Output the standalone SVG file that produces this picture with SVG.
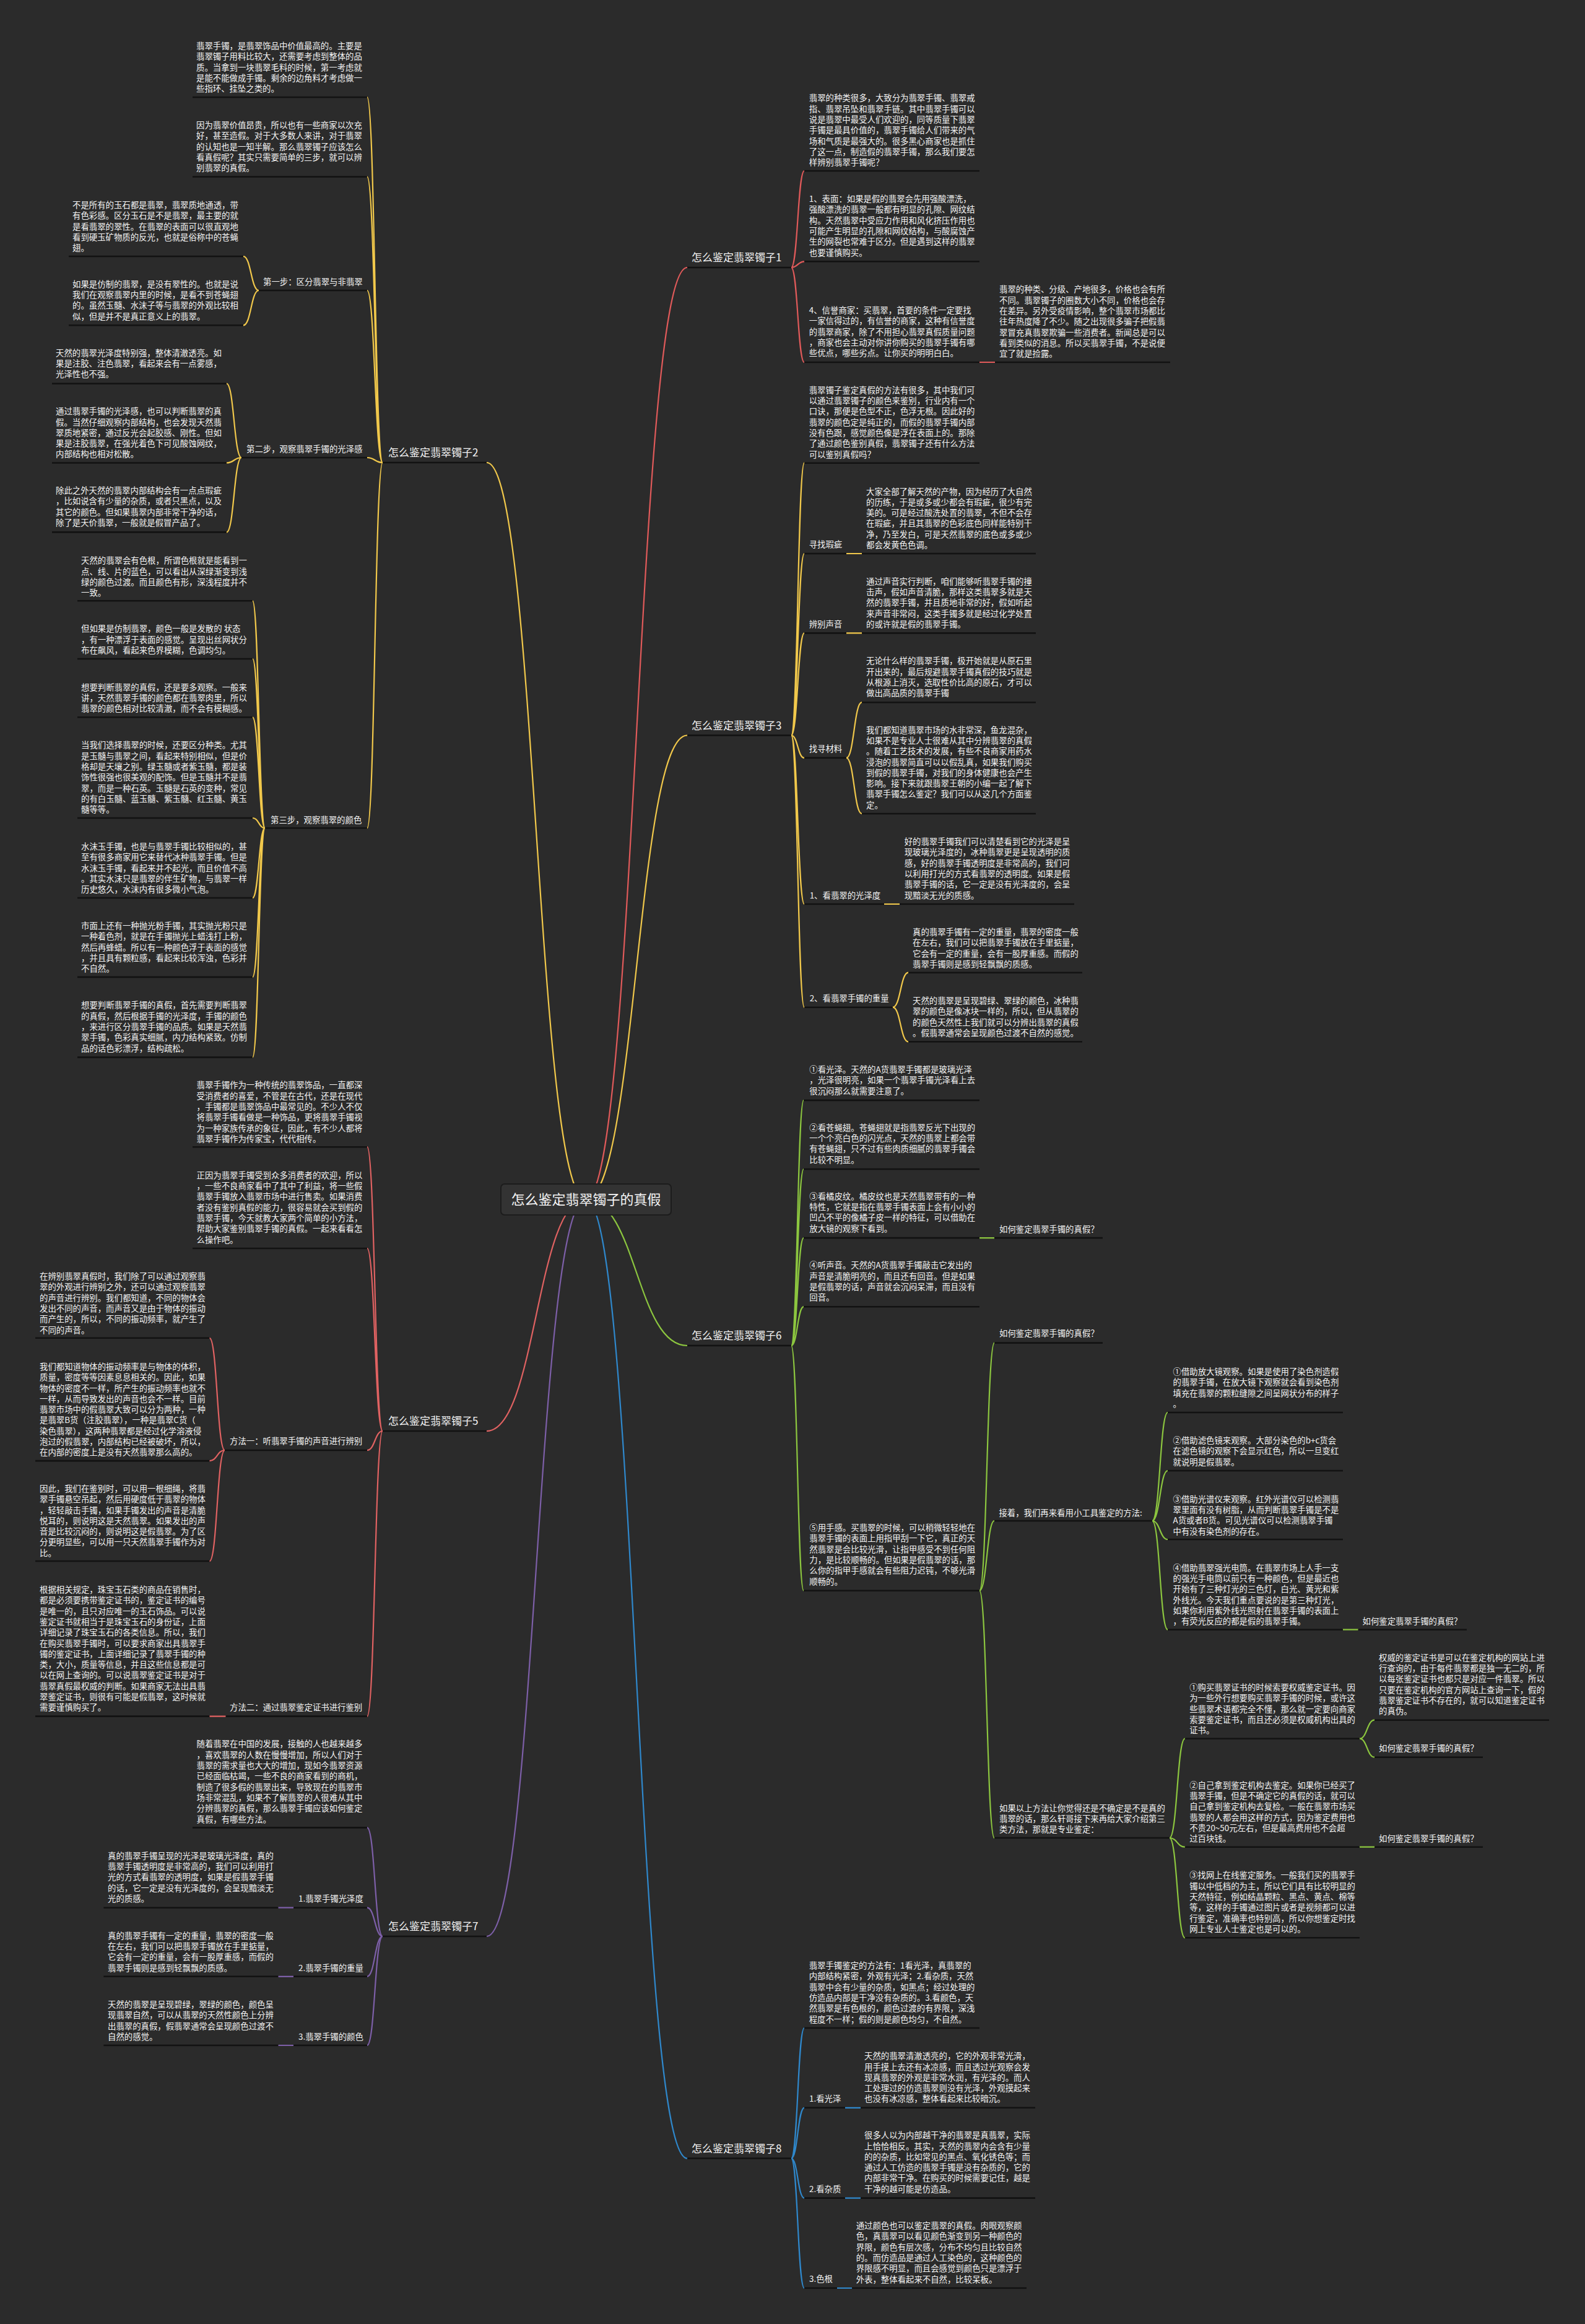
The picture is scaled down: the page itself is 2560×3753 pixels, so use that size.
<svg xmlns="http://www.w3.org/2000/svg" width="2560" height="3753" viewBox="0 0 2560 3753">
<style>
.t{font-family:"Noto Sans CJK SC","Noto Sans",sans-serif;font-size:13.4px;fill:#f4f4f4}
.lb{font-family:"Noto Sans CJK SC","Noto Sans",sans-serif;font-size:17px;fill:#f4f4f4}
.u{stroke:#121212;stroke-width:2.6;fill:none}
.c{fill:none;stroke-width:2.2;stroke-linecap:round}
.r1{stroke:#e05a5a}.y2{stroke:#f1c84b}.y3{stroke:#f1c84b}.r5{stroke:#e06262}.g6{stroke:#8cc63f}.p7{stroke:#7d5fa8}.b8{stroke:#2f88cc}
</style>
<rect width="2560" height="3753" fill="#2b2b2b"/>
<g id="connectors">
<path class="c r1" d="M946 1937C1028 1937 1028 432 1110 432"/>
<path class="c y3" d="M946 1937C1028 1937 1028 1187.5 1110 1187.5"/>
<path class="c g6" d="M946 1937C1028 1937 1028 2173 1110 2173"/>
<path class="c b8" d="M946 1937C1028 1937 1028 3485.5 1110 3485.5"/>
<path class="c y2" d="M946 1937C866 1937 866 747 786 747"/>
<path class="c r5" d="M946 1937C866 1937 866 2311 786 2311"/>
<path class="c p7" d="M946 1937C866 1937 866 3127 786 3127"/>
<!-- branch 2 -->
<path class="c y2" d="M618 747C605.5 747 605.5 157 593 157M618 747C605.5 747 605.5 285.5 593 285.5M618 747C605.5 747 605.5 469 593 469M618 747C605.5 747 605.5 739 593 739M618 747C605.5 747 605.5 1337.2 593 1337.2"/>
<path class="c y2" d="M418 469C405.5 469 405.5 414 393 414M418 469C405.5 469 405.5 525.3 393 525.3"/>
<path class="c y2" d="M390 739C378 739 378 619.5 366 619.5M390 739C378 739 378 747.5 366 747.5M390 739C378 739 378 859.4 366 859.4"/>
<path class="c y2" d="M428 1337.2C418 1337.2 418 970.3 408 970.3M428 1337.2C418 1337.2 418 1064 408 1064M428 1337.2C418 1337.2 418 1158.3 408 1158.3M428 1337.2C418 1337.2 418 1321 408 1321M428 1337.2C418 1337.2 418 1450 408 1450M428 1337.2C418 1337.2 418 1577.9 408 1577.9M428 1337.2C418 1337.2 418 1707.4 408 1707.4"/>
<!-- branch 5 -->
<path class="c r5" d="M618 2311C605.5 2311 605.5 1852.2 593 1852.2M618 2311C605.5 2311 605.5 2016 593 2016M618 2311C605.5 2311 605.5 2342 593 2342M618 2311C605.5 2311 605.5 2771.6 593 2771.6"/>
<path class="c r5" d="M363 2342C350.7 2342 350.7 2160.8 338.5 2160.8M363 2342C350.7 2342 350.7 2359.1 338.5 2359.1M363 2342C350.7 2342 350.7 2521 338.5 2521"/>
<path class="c r5" d="M364.5 2771.6H338.5"/>
<!-- branch 7 -->
<path class="c p7" d="M618 3127C605.5 3127 605.5 2951.4 593 2951.4M618 3127C605.5 3127 605.5 3080.7 593 3080.7M618 3127C605.5 3127 605.5 3191.8 593 3191.8M618 3127C605.5 3127 605.5 3303 593 3303"/>
<path class="c p7" d="M474 3080.7H449.5M474 3191.8H449.5M474 3303H449.5"/>
<!-- branch 1 -->
<path class="c r1" d="M1278 432C1288.5 432 1288.5 276 1299 276M1278 432C1288.5 432 1288.5 422.3 1299 422.3M1278 432C1288.5 432 1288.5 585 1299 585"/>
<path class="c r1" d="M1582 585H1607"/>
<!-- branch 3 -->
<path class="c y3" d="M1278 1187.5C1288.5 1187.5 1288.5 747.7 1299 747.7M1278 1187.5C1288.5 1187.5 1288.5 894 1299 894M1278 1187.5C1288.5 1187.5 1288.5 1022.4 1299 1022.4M1278 1187.5C1288.5 1187.5 1288.5 1223.9 1299 1223.9M1278 1187.5C1288.5 1187.5 1288.5 1460 1299 1460M1278 1187.5C1288.5 1187.5 1288.5 1626.7 1299 1626.7"/>
<path class="c y3" d="M1367 894H1392M1367 1022.4H1392M1428 1460H1453"/>
<path class="c y3" d="M1367 1223.9C1379.5 1223.9 1379.5 1134.2 1392 1134.2M1367 1223.9C1379.5 1223.9 1379.5 1314 1392 1314"/>
<path class="c y3" d="M1442 1626.7C1454.5 1626.7 1454.5 1570.7 1467 1570.7M1442 1626.7C1454.5 1626.7 1454.5 1682.3 1467 1682.3"/>
<!-- branch 6 -->
<path class="c g6" d="M1278 2173C1288 2173 1288 1776.9 1298 1776.9M1278 2173C1288 2173 1288 1888 1298 1888M1278 2173C1288 2173 1288 1999.1 1298 1999.1M1278 2173C1288 2173 1288 2110.2 1298 2110.2M1278 2173C1288 2173 1288 2568.7 1298 2568.7"/>
<path class="c g6" d="M1582 1999.1H1606"/>
<path class="c g6" d="M1582 2568.7C1594 2568.7 1594 2168.6 1606 2168.6M1582 2568.7C1594 2568.7 1594 2456 1606 2456M1582 2568.7C1594 2568.7 1594 2968 1606 2968"/>
<path class="c g6" d="M1861 2456C1873.5 2456 1873.5 2281 1886 2281M1861 2456C1873.5 2456 1873.5 2375 1886 2375M1861 2456C1873.5 2456 1873.5 2486 1886 2486M1861 2456C1873.5 2456 1873.5 2631.7 1886 2631.7"/>
<path class="c g6" d="M2169 2631.7H2193.5"/>
<path class="c g6" d="M1889 2968C1901.4 2968 1901.4 2807.7 1913.8 2807.7M1889 2968C1901.4 2968 1901.4 2982.7 1913.8 2982.7M1889 2968C1901.4 2968 1901.4 3129.3 1913.8 3129.3"/>
<path class="c g6" d="M2196 2807.7C2208 2807.7 2208 2777.7 2220 2777.7M2196 2807.7C2208 2807.7 2208 2837.7 2220 2837.7"/>
<path class="c g6" d="M2196 2982.7H2220"/>
<!-- branch 8 -->
<path class="c b8" d="M1278 3485.5C1288.5 3485.5 1288.5 3275 1299 3275M1278 3485.5C1288.5 3485.5 1288.5 3403.8 1299 3403.8M1278 3485.5C1288.5 3485.5 1288.5 3549.6 1299 3549.6M1278 3485.5C1288.5 3485.5 1288.5 3695 1299 3695"/>
<path class="c b8" d="M1365 3403.8H1390M1365 3549.6H1390M1352 3695H1376"/>
</g>

<g id="center">
<rect x="809" y="1912" width="275" height="50" rx="6" fill="#333" stroke="#1c1c1c" stroke-width="2"/>
<text x="946.5" y="1945" text-anchor="middle" font-family="Noto Sans CJK SC, sans-serif" font-size="22" fill="#f4f4f4">怎么鉴定翡翠镯子的真假</text>
</g>

<!-- ===== Branch 2 ===== -->
<g id="b2"><line class="u" x1="618" y1="747" x2="786" y2="747"/><text class="lb" x="627" y="737">怎么鉴定翡翠镯子2</text></g>
<g id="n2a"><line class="u" x1="311" y1="157" x2="593" y2="157"/><text class="t" x="317" y="79"><tspan x="317" dy="0">翡翠手镯，是翡翠饰品中价值最高的。主要是</tspan><tspan x="317" dy="17.3">翡翠镯子用料比较大，还需要考虑到整体的品</tspan><tspan x="317" dy="17.3">质。当拿到一块翡翠毛料的时候，第一考虑就</tspan><tspan x="317" dy="17.3">是能不能做成手镯。剩余的边角料才考虑做一</tspan><tspan x="317" dy="17.3">些指环、挂坠之类的。</tspan></text></g>
<g id="n2b"><line class="u" x1="311" y1="285.5" x2="593" y2="285.5"/><text class="t" x="317" y="207"><tspan x="317" dy="0">因为翡翠价值昂贵，所以也有一些商家以次充</tspan><tspan x="317" dy="17.3">好，甚至造假。对于大多数人来讲，对于翡翠</tspan><tspan x="317" dy="17.3">的认知也是一知半解。那么翡翠镯子应该怎么</tspan><tspan x="317" dy="17.3">看真假呢？其实只需要简单的三步，就可以辨</tspan><tspan x="317" dy="17.3">别翡翠的真假。</tspan></text></g>
<g id="n2s1"><line class="u" x1="418" y1="469" x2="593" y2="469"/><text class="t" x="425" y="460">第一步：区分翡翠与非翡翠</text></g>
<g id="n2s1a"><line class="u" x1="111" y1="414" x2="393" y2="414"/><text class="t" x="117" y="336"><tspan x="117" dy="0">不是所有的玉石都是翡翠，翡翠质地通透，带</tspan><tspan x="117" dy="17.3">有色彩感。区分玉石是不是翡翠，最主要的就</tspan><tspan x="117" dy="17.3">是看翡翠的翠性。在翡翠的表面可以很直观地</tspan><tspan x="117" dy="17.3">看到硬玉矿物质的反光，也就是俗称中的苍蝇</tspan><tspan x="117" dy="17.3">翅。</tspan></text></g>
<g id="n2s1b"><line class="u" x1="111" y1="525.3" x2="393" y2="525.3"/><text class="t" x="117" y="463.7"><tspan x="117" dy="0">如果是仿制的翡翠，是没有翠性的。也就是说</tspan><tspan x="117" dy="17.3">我们在观察翡翠内里的时候，是看不到苍蝇翅</tspan><tspan x="117" dy="17.3">的。虽然玉髓、水沫子等与翡翠的外观比较相</tspan><tspan x="117" dy="17.3">似，但是并不是真正意义上的翡翠。</tspan></text></g>
<g id="n2s2"><line class="u" x1="390" y1="739" x2="593" y2="739"/><text class="t" x="398" y="729.5">第二步，观察翡翠手镯的光泽感</text></g>
<g id="n2s2a"><line class="u" x1="84" y1="619.5" x2="366" y2="619.5"/><text class="t" x="90" y="574.5"><tspan x="90" dy="0">天然的翡翠光泽度特别强，整体清澈透亮。如</tspan><tspan x="90" dy="17.3">果是注胶、注色翡翠，看起来会有一点雾感，</tspan><tspan x="90" dy="17.3">光泽性也不强。</tspan></text></g>
<g id="n2s2b"><line class="u" x1="84" y1="747.5" x2="366" y2="747.5"/><text class="t" x="90" y="669.2"><tspan x="90" dy="0">通过翡翠手镯的光泽感，也可以判断翡翠的真</tspan><tspan x="90" dy="17.3">假。当然仔细观察内部结构，也会发现天然翡</tspan><tspan x="90" dy="17.3">翠质地紧密，通过反光会起胶感、刚性。但如</tspan><tspan x="90" dy="17.3">果是注胶翡翠，在强光着色下可见酸蚀网纹，</tspan><tspan x="90" dy="17.3">内部结构也相对松散。</tspan></text></g>
<g id="n2s2c"><line class="u" x1="84" y1="859.4" x2="366" y2="859.4"/><text class="t" x="90" y="797"><tspan x="90" dy="0">除此之外天然的翡翠内部结构会有一点点瑕疵</tspan><tspan x="90" dy="17.3">，比如说含有少量的杂质，或者只黑点，以及</tspan><tspan x="90" dy="17.3">其它的颜色。但如果翡翠内部非常干净的话，</tspan><tspan x="90" dy="17.3">除了是天价翡翠，一般就是假冒产品了。</tspan></text></g>
<g id="n2s3"><line class="u" x1="428" y1="1337.2" x2="593" y2="1337.2"/><text class="t" x="437" y="1329.2">第三步，观察翡翠的颜色</text></g>
<g id="n2s3a"><line class="u" x1="125" y1="970.3" x2="408" y2="970.3"/><text class="t" x="131" y="910.2"><tspan x="131" dy="0">天然的翡翠会有色根，所谓色根就是能看到一</tspan><tspan x="131" dy="17.3">点、线、片的蓝色，可以看出从深绿渐变到浅</tspan><tspan x="131" dy="17.3">绿的颜色过渡。而且颜色有形，深浅程度并不</tspan><tspan x="131" dy="17.3">一致。</tspan></text></g>
<g id="n2s3b"><line class="u" x1="125" y1="1064" x2="408" y2="1064"/><text class="t" x="131" y="1020.3"><tspan x="131" dy="0">但如果是仿制翡翠，颜色一般是发散的 状态</tspan><tspan x="131" dy="17.3">，有一种漂浮于表面的感觉。呈现出丝网状分</tspan><tspan x="131" dy="17.3">布在飙风，看起来色界模糊，色调均匀。</tspan></text></g>
<g id="n2s3c"><line class="u" x1="125" y1="1158.3" x2="408" y2="1158.3"/><text class="t" x="131" y="1114.6"><tspan x="131" dy="0">想要判断翡翠的真假，还是要多观察。一般来</tspan><tspan x="131" dy="17.3">讲，天然翡翠手镯的颜色都在翡翠肉里，所以</tspan><tspan x="131" dy="17.3">翡翠的颜色相对比较清澈，而不会有模糊感。</tspan></text></g>
<g id="n2s3d"><line class="u" x1="125" y1="1321" x2="408" y2="1321"/><text class="t" x="131" y="1208.3"><tspan x="131" dy="0">当我们选择翡翠的时候，还要区分种类。尤其</tspan><tspan x="131" dy="17.3">是玉髓与翡翠之间，看起来特别相似，但是价</tspan><tspan x="131" dy="17.3">格却是天壤之别。绿玉髓或者紫玉髓，都是装</tspan><tspan x="131" dy="17.3">饰性很强也很美观的配饰。但是玉髓并不是翡</tspan><tspan x="131" dy="17.3">翠，而是一种石英。玉髓是石英的变种，常见</tspan><tspan x="131" dy="17.3">的有白玉髓、蓝玉髓、紫玉髓、红玉髓、黄玉</tspan><tspan x="131" dy="17.3">髓等等。</tspan></text></g>
<g id="n2s3e"><line class="u" x1="125" y1="1450" x2="408" y2="1450"/><text class="t" x="131" y="1372"><tspan x="131" dy="0">水沫玉手镯，也是与翡翠手镯比较相似的，甚</tspan><tspan x="131" dy="17.3">至有很多商家用它来替代冰种翡翠手镯。但是</tspan><tspan x="131" dy="17.3">水沫玉手镯，看起来并不起光，而且价值不高</tspan><tspan x="131" dy="17.3">。其实水沫只是翡翠的伴生矿物，与翡翠一样</tspan><tspan x="131" dy="17.3">历史悠久，水沫内有很多微小气泡。</tspan></text></g>
<g id="n2s3f"><line class="u" x1="125" y1="1577.9" x2="408" y2="1577.9"/><text class="t" x="131" y="1499.9"><tspan x="131" dy="0">市面上还有一种抛光粉手镯，其实抛光粉只是</tspan><tspan x="131" dy="17.3">一种着色剂，就是在手镯抛光上蜡浅打上粉，</tspan><tspan x="131" dy="17.3">然后再蜂蜡。所以有一种颜色浮于表面的感觉</tspan><tspan x="131" dy="17.3">，并且具有颗粒感，看起来比较浑浊，色彩并</tspan><tspan x="131" dy="17.3">不自然。</tspan></text></g>
<g id="n2s3g"><line class="u" x1="125" y1="1707.4" x2="408" y2="1707.4"/><text class="t" x="131" y="1628.4"><tspan x="131" dy="0">想要判断翡翠手镯的真假，首先需要判断翡翠</tspan><tspan x="131" dy="17.3">的真假，然后根据手镯的光泽度，手镯的颜色</tspan><tspan x="131" dy="17.3">，来进行区分翡翠手镯的品质。如果是天然翡</tspan><tspan x="131" dy="17.3">翠手镯，色彩真实细腻，内力结构紧致。仿制</tspan><tspan x="131" dy="17.3">品的话色彩漂浮，结构疏松。</tspan></text></g>

<!-- ===== Branch 5 ===== -->
<g id="b5"><line class="u" x1="618" y1="2311" x2="786" y2="2311"/><text class="lb" x="627" y="2301">怎么鉴定翡翠镯子5</text></g>
<g id="n5a"><line class="u" x1="311" y1="1852.2" x2="593" y2="1852.2"/><text class="t" x="317.5" y="1757.4"><tspan x="317.5" dy="0">翡翠手镯作为一种传统的翡翠饰品，一直都深</tspan><tspan x="317.5" dy="17.3">受消费者的喜爱，不管是在古代，还是在现代</tspan><tspan x="317.5" dy="17.3">，手镯都是翡翠饰品中最常见的。不少人不仅</tspan><tspan x="317.5" dy="17.3">将翡翠手镯看做是一种饰品，更将翡翠手镯视</tspan><tspan x="317.5" dy="17.3">为一种家族传承的象征，因此，有不少人都将</tspan><tspan x="317.5" dy="17.3">翡翠手镯作为传家宝，代代相传。</tspan></text></g>
<g id="n5b"><line class="u" x1="311" y1="2016" x2="593" y2="2016"/><text class="t" x="317.5" y="1902.7"><tspan x="317.5" dy="0">正因为翡翠手镯受到众多消费者的欢迎，所以</tspan><tspan x="317.5" dy="17.3">，一些不良商家看中了其中了利益，将一些假</tspan><tspan x="317.5" dy="17.3">翡翠手镯放入翡翠市场中进行售卖。如果消费</tspan><tspan x="317.5" dy="17.3">者没有鉴别真假的能力，很容易就会买到假的</tspan><tspan x="317.5" dy="17.3">翡翠手镯，今天就教大家两个简单的小方法，</tspan><tspan x="317.5" dy="17.3">帮助大家鉴别翡翠手镯的真假。一起来看看怎</tspan><tspan x="317.5" dy="17.3">么操作吧。</tspan></text></g>
<g id="n5m1"><line class="u" x1="363" y1="2342" x2="593" y2="2342"/><text class="t" x="371" y="2332.4">方法一：听翡翠手镯的声音进行辨别</text></g>
<g id="n5m1a"><line class="u" x1="57" y1="2160.8" x2="338.5" y2="2160.8"/><text class="t" x="64" y="2066"><tspan x="64" dy="0">在辨别翡翠真假时，我们除了可以通过观察翡</tspan><tspan x="64" dy="17.3">翠的外观进行辨别之外，还可以通过观察翡翠</tspan><tspan x="64" dy="17.3">的声音进行辨别。我们都知道，不同的物体会</tspan><tspan x="64" dy="17.3">发出不同的声音，而声音又是由于物体的振动</tspan><tspan x="64" dy="17.3">而产生的，所以，不同的振动频率，就产生了</tspan><tspan x="64" dy="17.3">不同的声音。</tspan></text></g>
<g id="n5m1b"><line class="u" x1="57" y1="2359.1" x2="338.5" y2="2359.1"/><text class="t" x="64" y="2211.9"><tspan x="64" dy="0">我们都知道物体的振动频率是与物体的体积，</tspan><tspan x="64" dy="17.3">质量，密度等等因素息息相关的。因此，如果</tspan><tspan x="64" dy="17.3">物体的密度不一样，所产生的振动频率也就不</tspan><tspan x="64" dy="17.3">一样，从而导致发出的声音也会不一样。目前</tspan><tspan x="64" dy="17.3">翡翠市场中的假翡翠大致可以分为两种，一种</tspan><tspan x="64" dy="17.3">是翡翠B货（注胶翡翠），一种是翡翠C货（</tspan><tspan x="64" dy="17.3">染色翡翠），这两种翡翠都是经过化学溶液侵</tspan><tspan x="64" dy="17.3">泡过的假翡翠，内部结构已经被破坏，所以，</tspan><tspan x="64" dy="17.3">在内部的密度上是没有天然翡翠那么高的。</tspan></text></g>
<g id="n5m1c"><line class="u" x1="57" y1="2521" x2="338.5" y2="2521"/><text class="t" x="64" y="2408.9"><tspan x="64" dy="0">因此，我们在鉴别时，可以用一根细绳，将翡</tspan><tspan x="64" dy="17.3">翠手镯悬空吊起，然后用硬度低于翡翠的物体</tspan><tspan x="64" dy="17.3">，轻轻敲击手镯，如果手镯发出的声音是清脆</tspan><tspan x="64" dy="17.3">悦耳的，则说明这是天然翡翠。如果发出的声</tspan><tspan x="64" dy="17.3">音是比较沉闷的，则说明这是假翡翠。为了区</tspan><tspan x="64" dy="17.3">分更明显些，可以用一只天然翡翠手镯作为对</tspan><tspan x="64" dy="17.3">比。</tspan></text></g>
<g id="n5m2"><line class="u" x1="364.5" y1="2771.6" x2="593" y2="2771.6"/><text class="t" x="371" y="2761.5">方法二：通过翡翠鉴定证书进行鉴别</text></g>
<g id="n5m2a"><line class="u" x1="57" y1="2771.6" x2="338.5" y2="2771.6"/><text class="t" x="64" y="2572"><tspan x="64" dy="0">根据相关规定，珠宝玉石类的商品在销售时，</tspan><tspan x="64" dy="17.3">都是必须要携带鉴定证书的，鉴定证书的编号</tspan><tspan x="64" dy="17.3">是唯一的，且只对应唯一的玉石饰品。可以说</tspan><tspan x="64" dy="17.3">鉴定证书就相当于是珠宝玉石的身份证，上面</tspan><tspan x="64" dy="17.3">详细记录了珠宝玉石的各类信息。所以，我们</tspan><tspan x="64" dy="17.3">在购买翡翠手镯时，可以要求商家出具翡翠手</tspan><tspan x="64" dy="17.3">镯的鉴定证书，上面详细记录了翡翠手镯的种</tspan><tspan x="64" dy="17.3">类，大小，质量等信息，并且这些信息都是可</tspan><tspan x="64" dy="17.3">以在网上查询的。可以说翡翠鉴定证书是对于</tspan><tspan x="64" dy="17.3">翡翠真假最权威的判断。如果商家无法出具翡</tspan><tspan x="64" dy="17.3">翠鉴定证书，则很有可能是假翡翠，这时候就</tspan><tspan x="64" dy="17.3">需要谨慎购买了。</tspan></text></g>

<!-- ===== Branch 7 ===== -->
<g id="b7"><line class="u" x1="618" y1="3127" x2="786" y2="3127"/><text class="lb" x="627" y="3117">怎么鉴定翡翠镯子7</text></g>
<g id="n7a"><line class="u" x1="311" y1="2951.4" x2="593" y2="2951.4"/><text class="t" x="317.5" y="2821.4"><tspan x="317.5" dy="0">随着翡翠在中国的发展，接触的人也越来越多</tspan><tspan x="317.5" dy="17.3">，喜欢翡翠的人数在慢慢增加，所以人们对于</tspan><tspan x="317.5" dy="17.3">翡翠的需求量也大大的增加，现如今翡翠资源</tspan><tspan x="317.5" dy="17.3">已经面临枯竭，一些不良的商家看到的商机，</tspan><tspan x="317.5" dy="17.3">制造了很多假的翡翠出来，导致现在的翡翠市</tspan><tspan x="317.5" dy="17.3">场非常混乱，如果不了解翡翠的人很难从其中</tspan><tspan x="317.5" dy="17.3">分辨翡翠的真假，那么翡翠手镯应该如何鉴定</tspan><tspan x="317.5" dy="17.3">真假，有哪些方法。</tspan></text></g>
<g id="n7b"><line class="u" x1="474" y1="3080.7" x2="593" y2="3080.7"/><text class="t" x="482" y="3070.7">1.翡翠手镯光泽度</text></g>
<g id="n7b1"><line class="u" x1="167.4" y1="3080.7" x2="449.5" y2="3080.7"/><text class="t" x="174" y="3001.8"><tspan x="174" dy="0">真的翡翠手镯呈现的光泽是玻璃光泽度，真的</tspan><tspan x="174" dy="17.3">翡翠手镯透明度是非常高的，我们可以利用打</tspan><tspan x="174" dy="17.3">光的方式看翡翠的透明度，如果是假翡翠手镯</tspan><tspan x="174" dy="17.3">的话，它一定是没有光泽度的，会呈现黯淡无</tspan><tspan x="174" dy="17.3">光的质感。</tspan></text></g>
<g id="n7c"><line class="u" x1="474" y1="3191.8" x2="593" y2="3191.8"/><text class="t" x="482" y="3182.5">2.翡翠手镯的重量</text></g>
<g id="n7c1"><line class="u" x1="167.4" y1="3191.8" x2="449.5" y2="3191.8"/><text class="t" x="174" y="3130.7"><tspan x="174" dy="0">真的翡翠手镯有一定的重量，翡翠的密度一般</tspan><tspan x="174" dy="17.3">在左右，我们可以把翡翠手镯放在手里掂量，</tspan><tspan x="174" dy="17.3">它会有一定的重量，会有一股厚重感，而假的</tspan><tspan x="174" dy="17.3">翡翠手镯则是感到轻飘飘的质感。</tspan></text></g>
<g id="n7d"><line class="u" x1="474" y1="3303" x2="593" y2="3303"/><text class="t" x="482" y="3294">3.翡翠手镯的颜色</text></g>
<g id="n7d1"><line class="u" x1="167.4" y1="3303" x2="449.5" y2="3303"/><text class="t" x="174" y="3242"><tspan x="174" dy="0">天然的翡翠是呈现碧绿，翠绿的颜色，颜色呈</tspan><tspan x="174" dy="17.3">现翡翠自然，可以从翡翠的天然性颜色上分辨</tspan><tspan x="174" dy="17.3">出翡翠的真假，假翡翠通常会呈现颜色过渡不</tspan><tspan x="174" dy="17.3">自然的感觉。</tspan></text></g>

<!-- ===== Branch 1 ===== -->
<g id="b1"><line class="u" x1="1110" y1="432" x2="1278" y2="432"/><text class="lb" x="1117" y="422">怎么鉴定翡翠镯子1</text></g>
<g id="n1a"><line class="u" x1="1299" y1="276" x2="1582" y2="276"/><text class="t" x="1306.8" y="163.3"><tspan x="1306.8" dy="0">翡翠的种类很多，大致分为翡翠手镯、翡翠戒</tspan><tspan x="1306.8" dy="17.3">指、翡翠吊坠和翡翠手链。其中翡翠手镯可以</tspan><tspan x="1306.8" dy="17.3">说是翡翠中最受人们欢迎的，同等质量下翡翠</tspan><tspan x="1306.8" dy="17.3">手镯是最具价值的，翡翠手镯给人们带来的气</tspan><tspan x="1306.8" dy="17.3">场和气质是最强大的。很多黑心商家也是抓住</tspan><tspan x="1306.8" dy="17.3">了这一点，制造假的翡翠手镯，那么我们要怎</tspan><tspan x="1306.8" dy="17.3">样辨别翡翠手镯呢？</tspan></text></g>
<g id="n1b"><line class="u" x1="1299" y1="422.3" x2="1582" y2="422.3"/><text class="t" x="1306.8" y="326"><tspan x="1306.8" dy="0">1、表面：如果是假的翡翠会先用强酸漂洗，</tspan><tspan x="1306.8" dy="17.3">强酸漂洗的翡翠一般都有明显的孔隙、网纹结</tspan><tspan x="1306.8" dy="17.3">构。天然翡翠中受应力作用和风化挤压作用也</tspan><tspan x="1306.8" dy="17.3">可能产生明显的孔隙和网纹结构，与酸腐蚀产</tspan><tspan x="1306.8" dy="17.3">生的网裂也常难于区分。但是遇到这样的翡翠</tspan><tspan x="1306.8" dy="17.3">也要谨慎购买。</tspan></text></g>
<g id="n1c"><line class="u" x1="1299" y1="585" x2="1582" y2="585"/><text class="t" x="1306.8" y="506"><tspan x="1306.8" dy="0">4、信誉商家：买翡翠，首要的条件一定要找</tspan><tspan x="1306.8" dy="17.3">一家信得过的，有信誉的商家，这种有信誉度</tspan><tspan x="1306.8" dy="17.3">的翡翠商家，除了不用担心翡翠真假质量问题</tspan><tspan x="1306.8" dy="17.3">，商家也会主动对你讲你购买的翡翠手镯有哪</tspan><tspan x="1306.8" dy="17.3">些优点，哪些劣点。让你买的明明白白。</tspan></text></g>
<g id="n1c1"><line class="u" x1="1607" y1="585" x2="1890" y2="585"/><text class="t" x="1614" y="472.3"><tspan x="1614" dy="0">翡翠的种类、分级、产地很多，价格也会有所</tspan><tspan x="1614" dy="17.3">不同。翡翠镯子的圈数大小不同，价格也会存</tspan><tspan x="1614" dy="17.3">在差异。另外受疫情影响，整个翡翠市场都比</tspan><tspan x="1614" dy="17.3">往年热度降了不少。随之出现很多骗子把假翡</tspan><tspan x="1614" dy="17.3">翠冒充真翡翠欺骗一些消费者。新闻总是可以</tspan><tspan x="1614" dy="17.3">看到类似的消息。所以买翡翠手镯，不是说便</tspan><tspan x="1614" dy="17.3">宜了就是捡露。</tspan></text></g>

<!-- ===== Branch 3 ===== -->
<g id="b3"><line class="u" x1="1110" y1="1187.5" x2="1278" y2="1187.5"/><text class="lb" x="1117" y="1177.5">怎么鉴定翡翠镯子3</text></g>
<g id="n3a"><line class="u" x1="1299" y1="747.7" x2="1582" y2="747.7"/><text class="t" x="1306.7" y="634.7"><tspan x="1306.7" dy="0">翡翠镯子鉴定真假的方法有很多，其中我们可</tspan><tspan x="1306.7" dy="17.3">以通过翡翠镯子的颜色来鉴别，行业内有一个</tspan><tspan x="1306.7" dy="17.3">口诀，那便是色型不正，色浮无根。因此好的</tspan><tspan x="1306.7" dy="17.3">翡翠的颜色定是纯正的，而假的翡翠手镯内部</tspan><tspan x="1306.7" dy="17.3">没有色跟，感觉颜色像是浮在表面上的。那除</tspan><tspan x="1306.7" dy="17.3">了通过颜色鉴别真假，翡翠镯子还有什么方法</tspan><tspan x="1306.7" dy="17.3">可以鉴别真假吗？</tspan></text></g>
<g id="n3b"><line class="u" x1="1299" y1="894" x2="1367" y2="894"/><text class="t" x="1306.7" y="884.4">寻找瑕疵</text></g>
<g id="n3b1"><line class="u" x1="1392" y1="894" x2="1673" y2="894"/><text class="t" x="1399" y="798.5"><tspan x="1399" dy="0">大家全部了解天然的产物，因为经历了大自然</tspan><tspan x="1399" dy="17.3">的历练，于是或多或少都会有瑕疵，很少有完</tspan><tspan x="1399" dy="17.3">美的。可是经过酸洗处置的翡翠，不但不会存</tspan><tspan x="1399" dy="17.3">在瑕疵，并且其翡翠的色彩底色同样能特别干</tspan><tspan x="1399" dy="17.3">净，乃至发白，可是天然翡翠的底色或多或少</tspan><tspan x="1399" dy="17.3">都会发黄色色调。</tspan></text></g>
<g id="n3c"><line class="u" x1="1299" y1="1022.4" x2="1367" y2="1022.4"/><text class="t" x="1306.7" y="1012.7">辨别声音</text></g>
<g id="n3c1"><line class="u" x1="1392" y1="1022.4" x2="1673" y2="1022.4"/><text class="t" x="1399" y="943.8"><tspan x="1399" dy="0">通过声音实行判断，咱们能够听翡翠手镯的撞</tspan><tspan x="1399" dy="17.3">击声，假如声音清脆，那样这类翡翠多就是天</tspan><tspan x="1399" dy="17.3">然的翡翠手镯，并且质地非常的好，假如听起</tspan><tspan x="1399" dy="17.3">来声音非常闷，这类手镯多就是经过化学处置</tspan><tspan x="1399" dy="17.3">的或许就是假的翡翠手镯。</tspan></text></g>
<g id="n3d"><line class="u" x1="1299" y1="1223.9" x2="1367" y2="1223.9"/><text class="t" x="1306.7" y="1213.8">找寻材料</text></g>
<g id="n3d1"><line class="u" x1="1392" y1="1134.2" x2="1673" y2="1134.2"/><text class="t" x="1399" y="1072.2"><tspan x="1399" dy="0">无论什么样的翡翠手镯，极开始就是从原石里</tspan><tspan x="1399" dy="17.3">开出来的，最后规避翡翠手镯真假的技巧就是</tspan><tspan x="1399" dy="17.3">从根源上消灭，选取性价比高的原石，才可以</tspan><tspan x="1399" dy="17.3">做出高品质的翡翠手镯</tspan></text></g>
<g id="n3d2"><line class="u" x1="1392" y1="1314" x2="1673" y2="1314"/><text class="t" x="1399" y="1183.6"><tspan x="1399" dy="0">我们都知道翡翠市场的水非常深，鱼龙混杂，</tspan><tspan x="1399" dy="17.3">如果不是专业人士很难从其中分辨翡翠的真假</tspan><tspan x="1399" dy="17.3">。随着工艺技术的发展，有些不良商家用药水</tspan><tspan x="1399" dy="17.3">浸泡的翡翠简直可以以假乱真，如果我们购买</tspan><tspan x="1399" dy="17.3">到假的翡翠手镯，对我们的身体健康也会产生</tspan><tspan x="1399" dy="17.3">影响。接下来就跟翡翠王朝的小编一起了解下</tspan><tspan x="1399" dy="17.3">翡翠手镯怎么鉴定？我们可以从这几个方面鉴</tspan><tspan x="1399" dy="17.3">定。</tspan></text></g>
<g id="n3e"><line class="u" x1="1299" y1="1460" x2="1428" y2="1460"/><text class="t" x="1307.7" y="1450.7">1、看翡翠的光泽度</text></g>
<g id="n3e1"><line class="u" x1="1453" y1="1460" x2="1735" y2="1460"/><text class="t" x="1460.7" y="1364"><tspan x="1460.7" dy="0">好的翡翠手镯我们可以清楚看到它的光泽是呈</tspan><tspan x="1460.7" dy="17.3">现玻璃光泽度的，冰种翡翠更是呈现透明的质</tspan><tspan x="1460.7" dy="17.3">感，好的翡翠手镯透明度是非常高的，我们可</tspan><tspan x="1460.7" dy="17.3">以利用打光的方式看翡翠的透明度。如果是假</tspan><tspan x="1460.7" dy="17.3">翡翠手镯的话，它一定是没有光泽度的，会呈</tspan><tspan x="1460.7" dy="17.3">现黯淡无光的质感。</tspan></text></g>
<g id="n3f"><line class="u" x1="1299" y1="1626.7" x2="1442" y2="1626.7"/><text class="t" x="1307.7" y="1617.3">2、看翡翠手镯的重量</text></g>
<g id="n3f1"><line class="u" x1="1467" y1="1570.7" x2="1748" y2="1570.7"/><text class="t" x="1474" y="1510"><tspan x="1474" dy="0">真的翡翠手镯有一定的重量，翡翠的密度一般</tspan><tspan x="1474" dy="17.3">在左右，我们可以把翡翠手镯放在手里掂量，</tspan><tspan x="1474" dy="17.3">它会有一定的重量，会有一股厚重感。而假的</tspan><tspan x="1474" dy="17.3">翡翠手镯则是感到轻飘飘的质感。</tspan></text></g>
<g id="n3f2"><line class="u" x1="1467" y1="1682.3" x2="1748" y2="1682.3"/><text class="t" x="1474" y="1621"><tspan x="1474" dy="0">天然的翡翠是呈现碧绿、翠绿的颜色，冰种翡</tspan><tspan x="1474" dy="17.3">翠的颜色是像冰块一样的，所以，但从翡翠的</tspan><tspan x="1474" dy="17.3">的颜色天然性上我们就可以分辨出翡翠的真假</tspan><tspan x="1474" dy="17.3">。假翡翠通常会呈现颜色过渡不自然的感觉。</tspan></text></g>

<!-- ===== Branch 6 ===== -->
<g id="b6"><line class="u" x1="1110" y1="2173" x2="1278" y2="2173"/><text class="lb" x="1117" y="2163">怎么鉴定翡翠镯子6</text></g>
<g id="n6a"><line class="u" x1="1298" y1="1776.9" x2="1582" y2="1776.9"/><text class="t" x="1307.3" y="1731.9"><tspan x="1307.3" dy="0">①看光泽。天然的A货翡翠手镯都是玻璃光泽</tspan><tspan x="1307.3" dy="17.3">，光泽很明亮，如果一个翡翠手镯光泽看上去</tspan><tspan x="1307.3" dy="17.3">很沉闷那么就需要注意了。</tspan></text></g>
<g id="n6b"><line class="u" x1="1298" y1="1888" x2="1582" y2="1888"/><text class="t" x="1307.3" y="1825.6"><tspan x="1307.3" dy="0">②看苍蝇翅。苍蝇翅就是指翡翠反光下出现的</tspan><tspan x="1307.3" dy="17.3">一个个亮白色的闪光点，天然的翡翠上都会带</tspan><tspan x="1307.3" dy="17.3">有苍蝇翅，只不过有些肉质细腻的翡翠手镯会</tspan><tspan x="1307.3" dy="17.3">比较不明显。</tspan></text></g>
<g id="n6c"><line class="u" x1="1298" y1="1999.1" x2="1582" y2="1999.1"/><text class="t" x="1307.3" y="1936.8"><tspan x="1307.3" dy="0">③看橘皮纹。橘皮纹也是天然翡翠带有的一种</tspan><tspan x="1307.3" dy="17.3">特性，它就是指在翡翠手镯表面上会有小小的</tspan><tspan x="1307.3" dy="17.3">凹凸不平的像橘子皮一样的特征，可以借助在</tspan><tspan x="1307.3" dy="17.3">放大镜的观察下看到。</tspan></text></g>
<g id="n6c1"><line class="u" x1="1606" y1="1999.1" x2="1781" y2="1999.1"/><text class="t" x="1614" y="1989.5">如何鉴定翡翠手镯的真假？</text></g>
<g id="n6d"><line class="u" x1="1298" y1="2110.2" x2="1582" y2="2110.2"/><text class="t" x="1307.3" y="2048.4"><tspan x="1307.3" dy="0">④听声音。天然的A货翡翠手镯敲击它发出的</tspan><tspan x="1307.3" dy="17.3">声音是清脆明亮的，而且还有回音。但是如果</tspan><tspan x="1307.3" dy="17.3">是假翡翠的话，声音就会沉闷呆滞，而且没有</tspan><tspan x="1307.3" dy="17.3">回音。</tspan></text></g>
<g id="n6e"><line class="u" x1="1298" y1="2568.7" x2="1582" y2="2568.7"/><text class="t" x="1307.3" y="2472.1"><tspan x="1307.3" dy="0">⑤用手感。买翡翠的时候，可以稍微轻轻地在</tspan><tspan x="1307.3" dy="17.3">翡翠手镯的表面上用指甲刮一下它，真正的天</tspan><tspan x="1307.3" dy="17.3">然翡翠是会比较光滑，让指甲感受不到任何阻</tspan><tspan x="1307.3" dy="17.3">力，是比较顺畅的。但如果是假翡翠的话，那</tspan><tspan x="1307.3" dy="17.3">么你的指甲手感就会有些阻力迟钝，不够光滑</tspan><tspan x="1307.3" dy="17.3">顺畅的。</tspan></text></g>
<g id="n6e1"><line class="u" x1="1606" y1="2168.6" x2="1781" y2="2168.6"/><text class="t" x="1614" y="2158.4">如何鉴定翡翠手镯的真假？</text></g>
<g id="n6e2"><line class="u" x1="1606" y1="2456" x2="1861" y2="2456"/><text class="t" x="1613.4" y="2447.7">接着，我们再来看用小工具鉴定的方法:</text></g>
<g id="n6e2a"><line class="u" x1="1886" y1="2281" x2="2169" y2="2281"/><text class="t" x="1894.5" y="2220"><tspan x="1894.5" dy="0">①借助放大镜观察。如果是使用了染色剂造假</tspan><tspan x="1894.5" dy="17.3">的翡翠手镯，在放大镜下观察就会看到染色剂</tspan><tspan x="1894.5" dy="17.3">填充在翡翠的颗粒缝隙之间呈网状分布的样子</tspan><tspan x="1894.5" dy="17.3">。</tspan></text></g>
<g id="n6e2b"><line class="u" x1="1886" y1="2375" x2="2169" y2="2375"/><text class="t" x="1894.5" y="2331"><tspan x="1894.5" dy="0">②借助滤色镜来观察。大部分染色的b+c货会</tspan><tspan x="1894.5" dy="17.3">在滤色镜的观察下会显示红色，所以一旦变红</tspan><tspan x="1894.5" dy="17.3">就说明是假翡翠。</tspan></text></g>
<g id="n6e2c"><line class="u" x1="1886" y1="2486" x2="2169" y2="2486"/><text class="t" x="1894.5" y="2425.7"><tspan x="1894.5" dy="0">③借助光谱仪来观察。红外光谱仪可以检测翡</tspan><tspan x="1894.5" dy="17.3">翠里面有没有树脂，从而判断翡翠手镯是不是</tspan><tspan x="1894.5" dy="17.3">A货或者B货。可见光谱仪可以检测翡翠手镯</tspan><tspan x="1894.5" dy="17.3">中有没有染色剂的存在。</tspan></text></g>
<g id="n6e2d"><line class="u" x1="1886" y1="2631.7" x2="2169" y2="2631.7"/><text class="t" x="1894.5" y="2536.7"><tspan x="1894.5" dy="0">④借助翡翠强光电筒。在翡翠市场上人手一支</tspan><tspan x="1894.5" dy="17.3">的强光手电筒以前只有一种颜色，但是最近也</tspan><tspan x="1894.5" dy="17.3">开始有了三种灯光的三色灯，白光、黄光和紫</tspan><tspan x="1894.5" dy="17.3">外线光。今天我们重点要说的是第三种灯光，</tspan><tspan x="1894.5" dy="17.3">如果你利用紫外线光照射在翡翠手镯的表面上</tspan><tspan x="1894.5" dy="17.3">，有荧光反应的都是假的翡翠手镯。</tspan></text></g>
<g id="n6e2d1"><line class="u" x1="2193.5" y1="2631.7" x2="2369" y2="2631.7"/><text class="t" x="2200.5" y="2622.7">如何鉴定翡翠手镯的真假？</text></g>
<g id="n6e3"><line class="u" x1="1606" y1="2968" x2="1889" y2="2968"/><text class="t" x="1614" y="2924.6"><tspan x="1614" dy="0">如果以上方法让你觉得还是不确定是不是真的</tspan><tspan x="1614" dy="17.3">翡翠的话，那么轩哥接下来再给大家介绍第三</tspan><tspan x="1614" dy="17.3">类方法，那就是专业鉴定：</tspan></text></g>
<g id="n6e3a"><line class="u" x1="1913.8" y1="2807.7" x2="2196" y2="2807.7"/><text class="t" x="1921.2" y="2730"><tspan x="1921.2" dy="0">①购买翡翠证书的时候索要权威鉴定证书。因</tspan><tspan x="1921.2" dy="17.3">为一些外行想要购买翡翠手镯的时候，或许这</tspan><tspan x="1921.2" dy="17.3">些翡翠术语都完全不懂，那么就一定要向商家</tspan><tspan x="1921.2" dy="17.3">索要鉴定证书，而且还必须是权威机构出具的</tspan><tspan x="1921.2" dy="17.3">证书。</tspan></text></g>
<g id="n6e3a1"><line class="u" x1="2220" y1="2777.7" x2="2502" y2="2777.7"/><text class="t" x="2227" y="2681.7"><tspan x="2227" dy="0">权威的鉴定证书是可以在鉴定机构的网站上进</tspan><tspan x="2227" dy="17.3">行查询的，由于每件翡翠都是独一无二的，所</tspan><tspan x="2227" dy="17.3">以每张鉴定证书也都只是对应一件翡翠。所以</tspan><tspan x="2227" dy="17.3">只要在鉴定机构的官方网站上查询一下，假的</tspan><tspan x="2227" dy="17.3">翡翠鉴定证书不存在的，就可以知道鉴定证书</tspan><tspan x="2227" dy="17.3">的真伪。</tspan></text></g>
<g id="n6e3a2"><line class="u" x1="2220" y1="2837.7" x2="2395" y2="2837.7"/><text class="t" x="2227" y="2827.7">如何鉴定翡翠手镯的真假？</text></g>
<g id="n6e3b"><line class="u" x1="1913.8" y1="2982.7" x2="2196" y2="2982.7"/><text class="t" x="1921.2" y="2887.7"><tspan x="1921.2" dy="0">②自己拿到鉴定机构去鉴定。如果你已经买了</tspan><tspan x="1921.2" dy="17.3">翡翠手镯，但是不确定它的真假的话，就可以</tspan><tspan x="1921.2" dy="17.3">自己拿到鉴定机构去复检。一般在翡翠市场买</tspan><tspan x="1921.2" dy="17.3">翡翠的人都会用这样的方式，因为鉴定费用也</tspan><tspan x="1921.2" dy="17.3">不贵20~50元左右，但是最高费用也不会超</tspan><tspan x="1921.2" dy="17.3">过百块钱。</tspan></text></g>
<g id="n6e3b1"><line class="u" x1="2220" y1="2982.7" x2="2395" y2="2982.7"/><text class="t" x="2227" y="2974">如何鉴定翡翠手镯的真假？</text></g>
<g id="n6e3c"><line class="u" x1="1913.8" y1="3129.3" x2="2196" y2="3129.3"/><text class="t" x="1921.2" y="3033.3"><tspan x="1921.2" dy="0">③找网上在线鉴定服务。一般我们买的翡翠手</tspan><tspan x="1921.2" dy="17.3">镯以中低档的为主，所以它们具有比较明显的</tspan><tspan x="1921.2" dy="17.3">天然特征，例如结晶颗粒、黑点、黄点、棉等</tspan><tspan x="1921.2" dy="17.3">等，这样的手镯通过图片或者是视频都可以进</tspan><tspan x="1921.2" dy="17.3">行鉴定，准确率也特别高，所以你想鉴定时找</tspan><tspan x="1921.2" dy="17.3">网上专业人士鉴定也是可以的。</tspan></text></g>

<!-- ===== Branch 8 ===== -->
<g id="b8"><line class="u" x1="1110" y1="3485.5" x2="1278" y2="3485.5"/><text class="lb" x="1117" y="3475.5">怎么鉴定翡翠镯子8</text></g>
<g id="n8a"><line class="u" x1="1299" y1="3275" x2="1582" y2="3275"/><text class="t" x="1306.7" y="3179"><tspan x="1306.7" dy="0">翡翠手镯鉴定的方法有：1看光泽，真翡翠的</tspan><tspan x="1306.7" dy="17.3">内部结构紧密，外观有光泽；2.看杂质，天然</tspan><tspan x="1306.7" dy="17.3">翡翠中会有少量的杂质，如黑点；经过处理的</tspan><tspan x="1306.7" dy="17.3">仿造品内部是干净没有杂质的。3.看颜色，天</tspan><tspan x="1306.7" dy="17.3">然翡翠是有色根的，颜色过渡的有界限，深浅</tspan><tspan x="1306.7" dy="17.3">程度不一样；假的则是颜色均匀，不自然。</tspan></text></g>
<g id="n8b"><line class="u" x1="1299" y1="3403.8" x2="1365" y2="3403.8"/><text class="t" x="1307" y="3393.6">1.看光泽</text></g>
<g id="n8b1"><line class="u" x1="1390" y1="3403.8" x2="1672" y2="3403.8"/><text class="t" x="1396" y="3325.2"><tspan x="1396" dy="0">天然的翡翠清澈透亮的，它的外观非常光滑，</tspan><tspan x="1396" dy="17.3">用手摸上去还有冰凉感，而且透过光观察会发</tspan><tspan x="1396" dy="17.3">现真翡翠的外观是非常水润，有光泽的。而人</tspan><tspan x="1396" dy="17.3">工处理过的仿造翡翠则没有光泽，外观摸起来</tspan><tspan x="1396" dy="17.3">也没有冰凉感，整体看起来比较暗沉。</tspan></text></g>
<g id="n8c"><line class="u" x1="1299" y1="3549.6" x2="1365" y2="3549.6"/><text class="t" x="1307" y="3539.8">2.看杂质</text></g>
<g id="n8c1"><line class="u" x1="1390" y1="3549.6" x2="1672" y2="3549.6"/><text class="t" x="1396" y="3453.2"><tspan x="1396" dy="0">很多人以为内部越干净的翡翠是真翡翠，实际</tspan><tspan x="1396" dy="17.3">上恰恰相反。其实，天然的翡翠内会含有少量</tspan><tspan x="1396" dy="17.3">的的杂质，比如常见的黑点、氧化锈色等；而</tspan><tspan x="1396" dy="17.3">通过人工仿造的翡翠手镯是没有杂质的，它的</tspan><tspan x="1396" dy="17.3">内部非常干净。在购买的时候需要记住，越是</tspan><tspan x="1396" dy="17.3">干净的越可能是仿造品。</tspan></text></g>
<g id="n8d"><line class="u" x1="1299" y1="3695" x2="1352" y2="3695"/><text class="t" x="1307" y="3685">3.色根</text></g>
<g id="n8d1"><line class="u" x1="1376" y1="3695" x2="1658" y2="3695"/><text class="t" x="1382.7" y="3599"><tspan x="1382.7" dy="0">通过颜色也可以鉴定翡翠的真假。肉眼观察颜</tspan><tspan x="1382.7" dy="17.3">色，真翡翠可以看见颜色渐变到另一种颜色的</tspan><tspan x="1382.7" dy="17.3">界限，颜色有层次感，分布不均匀且比较自然</tspan><tspan x="1382.7" dy="17.3">的。而仿造品是通过人工染色的，这种颜色的</tspan><tspan x="1382.7" dy="17.3">界限感不明显，而且会感觉到颜色只是漂浮于</tspan><tspan x="1382.7" dy="17.3">外表，整体看起来不自然，比较呆板。</tspan></text></g>
</svg>
